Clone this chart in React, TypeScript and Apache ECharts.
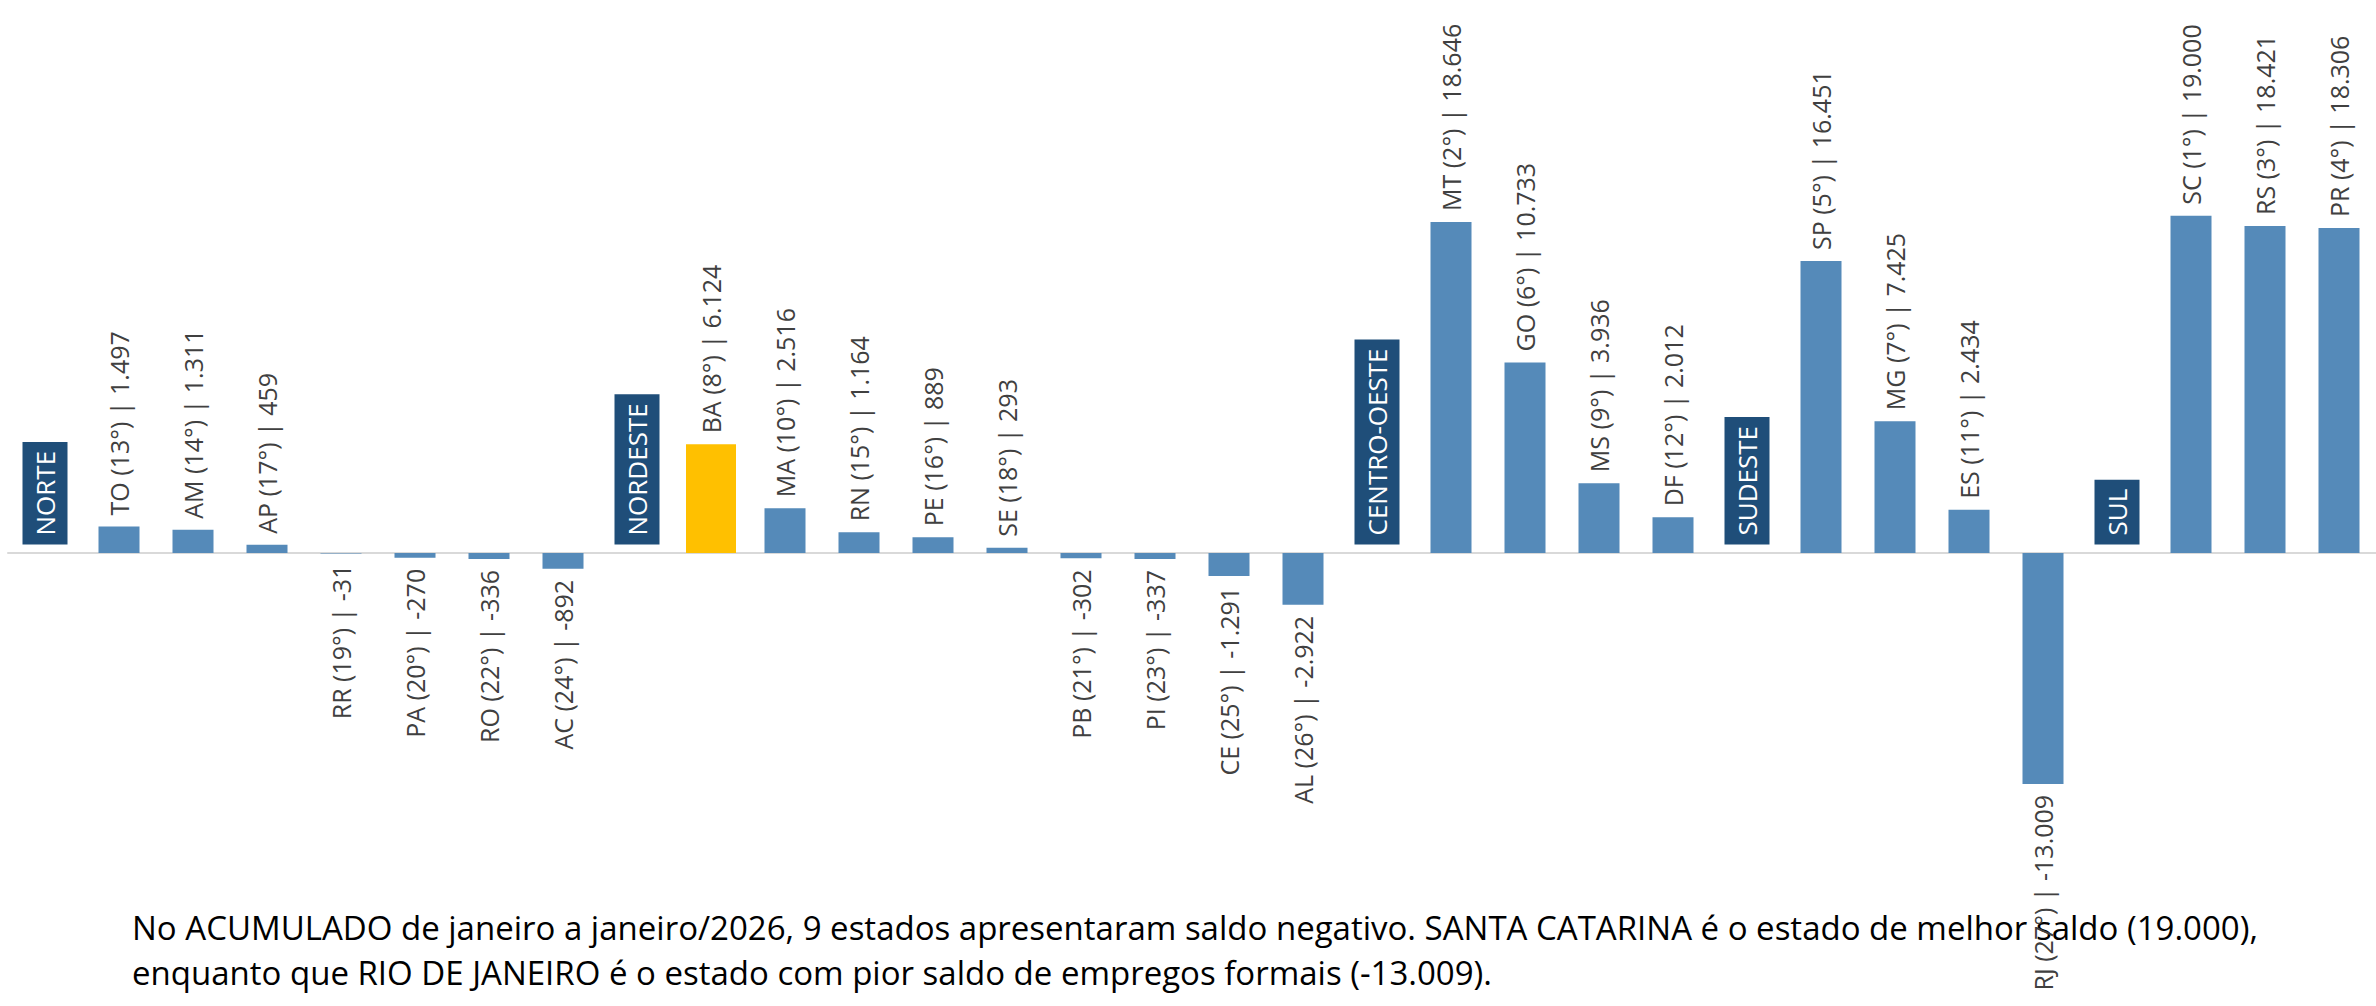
import React, { useEffect, useRef } from "react";
import * as echarts from "echarts";

const categories = [
  "NORTE", "TO", "AM", "AP", "RR", "PA", "RO", "AC",
  "NORDESTE", "BA", "MA", "RN", "PE", "SE", "PB", "PI", "CE", "AL",
  "CENTRO-OESTE", "MT", "GO", "MS", "DF",
  "SUDESTE", "SP", "MG", "ES", "RJ",
  "SUL", "SC", "RS", "PR",
];
const saldo: (number | null)[] = [
  null, 1497, 1311, 459, -31, -270, -336, -892,
  null, 6124, 2516, 1164, 889, 293, -302, -337, -1291, -2922,
  null, 18646, 10733, 3936, 2012,
  null, 16451, 7425, 2434, -13009,
  null, 19000, 18421, 18306,
];
const ranking: (number | null)[] = [
  null, 13, 14, 17, 19, 20, 22, 24,
  null, 8, 10, 15, 16, 18, 21, 23, 25, 26,
  null, 2, 6, 9, 12,
  null, 5, 7, 11, 27,
  null, 1, 3, 4,
];
const regionNames = ["NORTE", "NORDESTE", "CENTRO-OESTE", "SUDESTE", "SUL"];
const highlightState = "BA";
const footnoteLines = [
  "No ACUMULADO de janeiro a janeiro/2026, 9 estados apresentaram saldo negativo. SANTA CATARINA é o estado de melhor saldo (19.000),",
  "enquanto que RIO DE JANEIRO é o estado com pior saldo de empregos formais (-13.009).",
];

const BLUE = "#558AB9";
const YELLOW = "#FFC000";
const NAVY = "#1F4E79";
const LABEL_COLOR = "#404040";
const FONT = '"Open Sans", sans-serif';

function fmt(v: number): string {
  const s = Math.abs(v).toString().replace(/\B(?=(\d{3})+(?!\d))/g, ".");
  return (v < 0 ? "-" : "") + s;
}
function stateLabel(i: number): string {
  return `${categories[i]} (${ranking[i]}°) | ${fmt(saldo[i] as number)}`;
}

const baseLabel = {
  show: true,
  rotate: 90,
  verticalAlign: "middle",
  fontFamily: FONT,
  fontSize: 25,
  color: LABEL_COLOR,
  distance: 11,
  formatter: (p: any) => stateLabel(p.dataIndex),
};
const posLabel = { ...baseLabel, position: "top", align: "left" };
const negLabel = { ...baseLabel, position: "bottom", align: "right" };

export default function App() {
  const ref = useRef<HTMLDivElement>(null);
  useEffect(() => {
    if (!ref.current) return;
    const chart = echarts.init(ref.current, null, { renderer: "svg" });

    const blueData = categories.map((c, i) => {
      const v = saldo[i];
      if (v == null || c === highlightState) return null;
      return { value: v, label: v >= 0 ? posLabel : negLabel };
    });
    const yellowData = categories.map((c, i) => {
      const v = saldo[i];
      if (v == null || c !== highlightState) return null;
      return { value: v, label: v >= 0 ? posLabel : negLabel };
    });
    const regionData = categories.map((c) => (regionNames.includes(c) ? 0 : null));

    chart.setOption({
      animation: false,
      backgroundColor: "#ffffff",
      grid: { left: 8, top: 198, width: 2392, height: 710 },
      xAxis: [
        {
          type: "category",
          data: categories,
          axisLine: { show: true, onZero: true, lineStyle: { color: "#D9D9D9", width: 2 } },
          axisTick: { show: false },
          axisLabel: { show: false },
          splitLine: { show: false },
        },
        {
          type: "category",
          data: categories,
          show: false,
        },
      ],
      yAxis: {
        type: "value",
        min: -20000,
        max: 20000,
        axisLine: { show: false },
        axisTick: { show: false },
        axisLabel: { show: false },
        splitLine: { show: false },
      },
      series: [
        {
          name: "Saldo",
          type: "bar",
          xAxisIndex: 0,
          data: blueData,
          barWidth: 41,
          itemStyle: { color: BLUE },
          label: baseLabel,
        },
        {
          name: "Destaque",
          type: "bar",
          xAxisIndex: 1,
          data: yellowData,
          barWidth: 50,
          itemStyle: { color: YELLOW },
          label: baseLabel,
        },
        {
          name: "Regiões",
          type: "scatter",
          xAxisIndex: 0,
          data: regionData,
          symbol: "rect",
          symbolSize: 1,
          itemStyle: { color: "rgba(0,0,0,0)", opacity: 1 },
          label: {
            show: true,
            position: "top",
            distance: 8,
            rotate: 90,
            align: "left",
            verticalAlign: "middle",
            fontFamily: FONT,
            fontSize: 26,
            lineHeight: 30,
            color: "#ffffff",
            opacity: 1,
            backgroundColor: NAVY,
            padding: [8, 9, 7, 9],
            formatter: (p: any) => categories[p.dataIndex],
          },
        },
      ],
      graphic: footnoteLines.map((t, i) => ({
        type: "text",
        left: 132,
        top: 911 + i * 45,
        style: {
          text: t,
          font: `33px ${FONT}`,
          fill: "#000000",
        },
      })),
    });

    return () => chart.dispose();
  }, []);

  return (
    <div
      ref={ref}
      style={{ position: "absolute", left: 0, top: 0, width: 2376, height: 1006 }}
    />
  );
}
